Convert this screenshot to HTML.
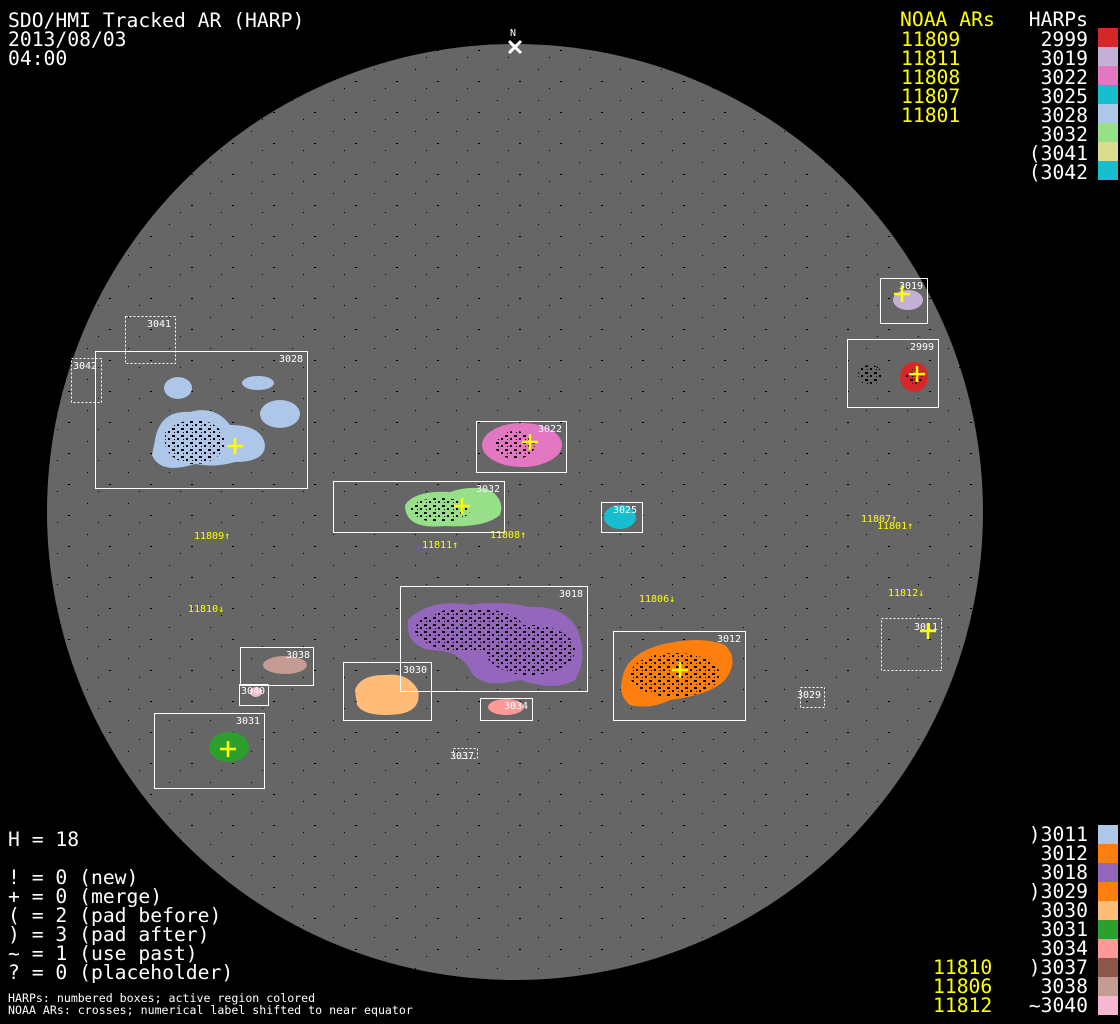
<!DOCTYPE html>
<html><head><meta charset="utf-8"><style>
html,body{margin:0;padding:0;background:#000;width:1120px;height:1024px;overflow:hidden}
svg{display:block}
text{font-family:"DejaVu Sans Mono","Liberation Mono",monospace}
.t{fill:#fff;font-size:19.7px}
.y{fill:#ff0;font-size:19.7px}
.s{fill:#fff;font-size:11.6px}
.l{fill:#fff;font-size:10px}
.n{fill:#ff0;font-size:10px}
.b{fill:none;stroke:#fff;stroke-width:1}
.d{fill:none;stroke:#fff;stroke-width:1;stroke-dasharray:2,2}
.c{stroke:#ff0;stroke-width:2.5}
</style></head><body>
<svg width="1120" height="1024" viewBox="0 0 1120 1024">
<defs>
<pattern id="sp" width="9" height="7" patternUnits="userSpaceOnUse">
<rect x="1" y="1" width="3" height="2" fill="#000"/><rect x="6" y="4" width="2" height="2" fill="#000"/><rect x="3" y="5" width="1" height="1" fill="#000"/>
</pattern>
<pattern id="bg" width="41" height="31" patternUnits="userSpaceOnUse">
<rect x="5" y="7" width="1" height="1" fill="#000"/><rect x="27" y="19" width="2" height="1" fill="#000"/><rect x="16" y="26" width="1" height="1" fill="#000"/>
</pattern>
<clipPath id="disk"><circle cx="515" cy="512" r="468"/></clipPath>
</defs>
<rect width="1120" height="1024" fill="#000"/>
<circle cx="515" cy="512" r="468" fill="#666"/>
<rect x="47" y="44" width="936" height="936" fill="url(#bg)" clip-path="url(#disk)"/>
<text x="510" y="36" class="l" font-size="9">N</text>
<path d="M509 41 L521 53 M521 41 L509 53" stroke="#fff" stroke-width="3"/>
<text x="8" y="27" class="t">SDO/HMI Tracked AR (HARP)</text>
<text x="8" y="46" class="t">2013/08/03</text>
<text x="8" y="65" class="t">04:00</text>
<text x="900" y="26" class="y">NOAA ARs</text>
<text x="1088" y="26" class="t" text-anchor="end">HARPs</text>
<g class="y"><text x="901" y="46">11809</text><text x="901" y="65">11811</text><text x="901" y="84">11808</text><text x="901" y="103">11807</text><text x="901" y="122">11801</text></g>
<g class="t" text-anchor="end"><text x="1088" y="46">2999</text><text x="1088" y="65">3019</text><text x="1088" y="84">3022</text><text x="1088" y="103">3025</text><text x="1088" y="122">3028</text><text x="1088" y="141">3032</text><text x="1088" y="160">(3041</text><text x="1088" y="179">(3042</text></g>
<rect x="1098" y="28" width="20" height="19" fill="#d62728"/>
<rect x="1098" y="47" width="20" height="19" fill="#c5b0d5"/>
<rect x="1098" y="66" width="20" height="19" fill="#e377c2"/>
<rect x="1098" y="85" width="20" height="19" fill="#17becf"/>
<rect x="1098" y="104" width="20" height="19" fill="#aec7e8"/>
<rect x="1098" y="123" width="20" height="19" fill="#98df8a"/>
<rect x="1098" y="142" width="20" height="19" fill="#dbdb8d"/>
<rect x="1098" y="161" width="20" height="19" fill="#17becf"/>
<text x="8" y="846" class="t">H = 18</text>
<g class="t"><text x="8" y="884">! = 0 (new)</text><text x="8" y="903">+ = 0 (merge)</text><text x="8" y="922">( = 2 (pad before)</text><text x="8" y="941">) = 3 (pad after)</text><text x="8" y="960">~ = 1 (use past)</text><text x="8" y="979">? = 0 (placeholder)</text></g>
<text x="8" y="1002" class="s">HARPs: numbered boxes; active region colored</text>
<text x="8" y="1014" class="s">NOAA ARs: crosses; numerical label shifted to near equator</text>
<g class="t" text-anchor="end"><text x="1088" y="841">)3011</text><text x="1088" y="860">3012</text><text x="1088" y="879">3018</text><text x="1088" y="898">)3029</text><text x="1088" y="917">3030</text><text x="1088" y="936">3031</text><text x="1088" y="955">3034</text><text x="1088" y="974">)3037</text><text x="1088" y="993">3038</text><text x="1088" y="1012">~3040</text></g>
<g class="y"><text x="933" y="974">11810</text><text x="933" y="993">11806</text><text x="933" y="1012">11812</text></g>
<rect x="1098" y="825" width="20" height="19" fill="#aec7e8"/>
<rect x="1098" y="844" width="20" height="19" fill="#ff7f0e"/>
<rect x="1098" y="863" width="20" height="19" fill="#9467bd"/>
<rect x="1098" y="882" width="20" height="19" fill="#ff7f0e"/>
<rect x="1098" y="901" width="20" height="19" fill="#ffbb78"/>
<rect x="1098" y="920" width="20" height="19" fill="#2ca02c"/>
<rect x="1098" y="939" width="20" height="19" fill="#ff9896"/>
<rect x="1098" y="958" width="20" height="19" fill="#8c564b"/>
<rect x="1098" y="977" width="20" height="19" fill="#c49c94"/>
<rect x="1098" y="996" width="20" height="19" fill="#f7b6d2"/>
<g>
<ellipse cx="178" cy="388" rx="14" ry="11" fill="#aec7e8"/>
<ellipse cx="258" cy="383" rx="16" ry="7" fill="#aec7e8"/>
<ellipse cx="280" cy="414" rx="20" ry="14" fill="#aec7e8"/>
<path d="M155 440 Q160 410 190 412 Q215 405 230 425 Q262 425 265 445 Q265 462 235 462 Q215 468 195 464 Q160 475 152 455 Z" fill="#aec7e8"/>
<ellipse cx="522" cy="445" rx="40" ry="22" fill="#e377c2"/>
<path d="M405 505 Q415 490 450 492 Q470 485 490 490 Q505 500 500 515 Q485 528 445 526 Q405 530 405 505 Z" fill="#98df8a"/>
<ellipse cx="620" cy="517" rx="16" ry="12" fill="#17becf"/>
<ellipse cx="914" cy="377" rx="14" ry="15" fill="#d62728"/>
<ellipse cx="908" cy="300" rx="15" ry="10" fill="#c5b0d5"/>
<path d="M408 620 Q430 598 470 605 Q500 600 530 607 Q560 605 575 625 Q590 655 575 680 Q555 692 520 680 Q480 690 470 670 Q460 650 430 650 Q405 645 408 620 Z" fill="#9467bd"/>
<path d="M622 680 Q625 655 660 645 Q700 635 725 645 Q740 660 725 680 Q710 695 670 700 Q650 710 630 705 Q618 695 622 680 Z" fill="#ff7f0e"/>
<ellipse cx="285" cy="665" rx="22" ry="9" fill="#c49c94"/>
<path d="M355 690 Q360 675 385 675 Q408 672 418 690 Q422 710 400 714 Q365 718 357 705 Z" fill="#ffbb78"/>
<ellipse cx="506" cy="707" rx="18" ry="8" fill="#ff9896"/>
<ellipse cx="229" cy="747" rx="20" ry="15" fill="#2ca02c"/>
<ellipse cx="256" cy="692" rx="6" ry="5" fill="#f7b6d2"/>
</g>
<g fill="url(#sp)">
<ellipse cx="195" cy="442" rx="30" ry="22"/>
<ellipse cx="515" cy="445" rx="20" ry="14"/>
<ellipse cx="440" cy="510" rx="30" ry="12"/>
<ellipse cx="470" cy="630" rx="55" ry="22"/>
<ellipse cx="530" cy="650" rx="45" ry="25"/>
<ellipse cx="675" cy="675" rx="45" ry="22"/>
<ellipse cx="914" cy="377" rx="8" ry="8"/>
<ellipse cx="870" cy="375" rx="12" ry="10"/>
<ellipse cx="175" cy="435" rx="10" ry="10"/>
</g>
<g class="b">
<rect x="95.5" y="351.5" width="212" height="137"/>
<rect x="476.5" y="421.5" width="90" height="51"/>
<rect x="333.5" y="481.5" width="171" height="51"/>
<rect x="601.5" y="502.5" width="41" height="30"/>
<rect x="880.5" y="278.5" width="47" height="45"/>
<rect x="847.5" y="339.5" width="91" height="68"/>
<rect x="400.5" y="586.5" width="187" height="105"/>
<rect x="613.5" y="631.5" width="132" height="89"/>
<rect x="240.5" y="647.5" width="73" height="38"/>
<rect x="343.5" y="662.5" width="88" height="58"/>
<rect x="480.5" y="698.5" width="52" height="22"/>
<rect x="154.5" y="713.5" width="110" height="75"/>
<rect x="239.5" y="684.5" width="29" height="21"/>
</g>
<g class="d">
<rect x="125.5" y="316.5" width="50" height="47"/>
<rect x="71.5" y="358.5" width="30" height="44"/>
<rect x="881.5" y="618.5" width="60" height="52"/>
<rect x="800.5" y="687.5" width="24" height="20"/>
<rect x="453.5" y="748.5" width="24" height="10"/>
</g>
<g class="l">
<text x="147" y="327">3041</text><text x="73" y="369">3042</text><text x="279" y="362">3028</text>
<text x="538" y="432">3022</text><text x="476" y="492">3032</text><text x="613" y="513">3025</text>
<text x="899" y="289">3019</text><text x="910" y="350">2999</text><text x="559" y="597">3018</text>
<text x="717" y="642">3012</text><text x="914" y="630">3011</text><text x="797" y="698">3029</text>
<text x="286" y="658">3038</text><text x="403" y="673">3030</text><text x="504" y="709">3034</text>
<text x="236" y="724">3031</text><text x="241" y="694">3040</text><text x="450" y="759">3037</text>
</g>
<g class="n">
<text x="194" y="539">11809↑</text><text x="422" y="548">11811↑</text><text x="490" y="538">11808↑</text>
<text x="861" y="522">11807↑</text><text x="877" y="529">11801↑</text><text x="188" y="612">11810↓</text>
<text x="639" y="602">11806↓</text><text x="888" y="596">11812↓</text>
</g>
<g class="c">
<path d="M235 438v16M227 446h16"/><path d="M530 434v16M522 442h16"/><path d="M462 498v16M454 506h16"/>
<path d="M902 286v16M894 294h16"/><path d="M917 366v16M909 374h16"/><path d="M680 662v16M672 670h16"/>
<path d="M928 623v16M920 631h16"/><path d="M228 741v16M220 749h16"/>
</g>
</svg>
</body></html>
